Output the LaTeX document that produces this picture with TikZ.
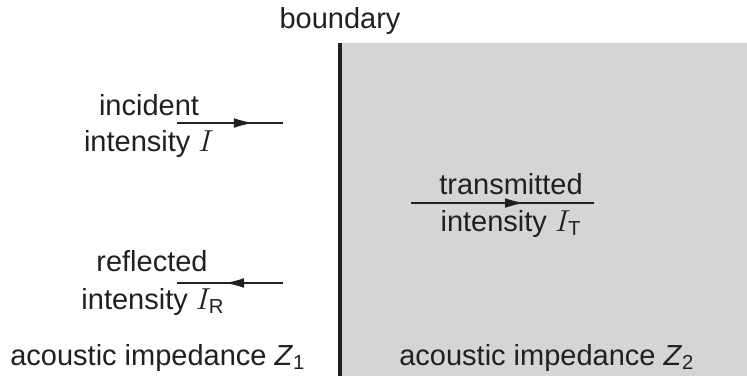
\documentclass[tikz,border=0pt]{standalone}
\usepackage{amsmath}
\usepackage{fontspec}
\setmainfont{Liberation Sans}
\usetikzlibrary{arrows.meta, positioning, decorations.markings}

\definecolor{inkdark}{RGB}{35,31,32}
\definecolor{mediumtwo}{RGB}{212,213,215}

\begin{document}
\begin{tikzpicture}[
    x=0.02cm, y=-0.02cm,
    font=\fontsize{16.5}{20}\selectfont,
    % Styles
    txt/.style = {inner sep=0pt, text=inkdark, anchor=base},
    ray/.style = {draw=inkdark, line width=0.8pt},
    midarrow/.style = {ray, postaction={decorate},
        decoration={markings, mark=at position #1 with {\arrow{Latex[length=11pt,width=5.5pt]}}}},
    boundary_line/.style = {draw=inkdark, line width=2pt}
]

\useasboundingbox (0,0) rectangle (747,376);

% --- MEDIUM 2 AND BOUNDARY ---
\fill[mediumtwo] (341,43) rectangle (747,376);
\coordinate (bnd_top) at (340,43);
\coordinate (bnd_bot) at (340,376);
\draw[boundary_line] (bnd_top) -- (bnd_bot);
\node[txt] (bnd_lbl) at (340,28) {boundary};

% --- INCIDENT ---
\coordinate (inc_start) at (177,123);
\coordinate (inc_end) at (283,123);
\draw[midarrow=0.72] (inc_start) -- (inc_end);
\node[txt] (inc_top) at (149,115) {incident};
\node[txt] (inc_bot) at (149,151) {intensity $I$};

% --- REFLECTED ---
\coordinate (ref_start) at (283,283);
\coordinate (ref_end) at (177,283);
\draw[midarrow=0.55] (ref_start) -- (ref_end);
\node[txt] (ref_top) at (152,271) {reflected};
\node[txt] (ref_bot) at (153,309) {intensity $I_{\text{R}}$};

% --- TRANSMITTED ---
\coordinate (tra_start) at (411,203);
\coordinate (tra_end) at (594,203);
\draw[midarrow=0.62] (tra_start) -- (tra_end);
\node[txt] (tra_top) at (511,194) {transmitted};
\node[txt] (tra_bot) at (511,231) {intensity $I_{\text{T}}$};

% --- IMPEDANCES ---
\node[txt, anchor=base west] (imp_one) at (10,365) {acoustic impedance \textit{Z}\textsubscript{1}};
\node[txt, anchor=base west] (imp_two) at (399,365) {acoustic impedance \textit{Z}\textsubscript{2}};

\end{tikzpicture}
\end{document}
